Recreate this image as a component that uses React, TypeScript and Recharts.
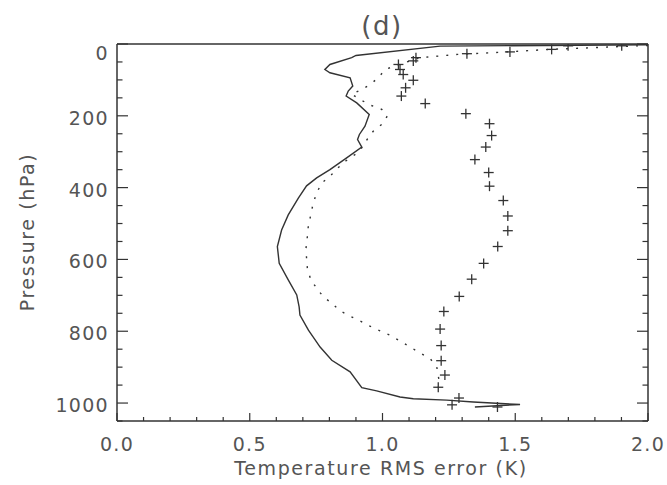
import { Scatter, ScatterChart, XAxis, YAxis } from "recharts";

// solid line: RMS error (K) vs pressure (hPa)
const SOLID_RMS = [2.0, 1.217, 0.9, 0.884, 0.802, 0.783, 0.802, 0.878, 0.888, 0.871, 0.863, 0.903, 0.95, 0.934, 0.913, 0.906, 0.922, 0.865, 0.802, 0.752, 0.714, 0.683, 0.645, 0.62, 0.604, 0.611, 0.645, 0.677, 0.686, 0.689, 0.721, 0.765, 0.809, 0.878, 0.922, 0.978, 1.066, 1.116, 1.242, 1.342, 1.518, 1.348];
const SOLID_P = [2, 6, 32, 38, 57, 71, 80, 94, 117, 131, 145, 164, 196, 229, 252, 266, 287, 317, 350, 373, 395, 429, 476, 518, 564, 611, 657, 699, 732, 755, 797, 844, 881, 913, 957, 966, 983, 988, 992, 997, 1004, 1011];

// dotted line
const DOTTED_RMS = [2.0, 1.631, 1.443, 1.284, 1.141, 1.047, 1.01, 0.984, 0.953, 0.921, 0.884, 0.915, 0.953, 0.997, 1.018, 0.997, 0.965, 0.942, 0.922, 0.896, 0.859, 0.825, 0.802, 0.771, 0.752, 0.739, 0.73, 0.721, 0.717, 0.712, 0.714, 0.717, 0.73, 0.752, 0.777, 0.809, 0.84, 0.878, 0.915, 0.953, 0.991, 1.028, 1.066, 1.104, 1.141, 1.179, 1.204, 1.213, 1.21];
const DOTTED_P = [4, 15, 23, 29, 38, 61, 71, 94, 113, 127, 140, 154, 170, 182, 201, 224, 243, 266, 289, 308, 327, 350, 369, 387, 415, 443, 476, 504, 536, 569, 597, 625, 657, 680, 704, 722, 743, 758, 771, 786, 799, 811, 827, 844, 860, 876, 898, 937, 957];

// plus markers
const PLUS_RMS = [1.901, 1.699, 1.637, 1.48, 1.318, 1.126, 1.116, 1.06, 1.066, 1.078, 1.116, 1.087, 1.071, 1.161, 1.314, 1.403, 1.411, 1.389, 1.348, 1.4, 1.403, 1.455, 1.472, 1.472, 1.434, 1.381, 1.336, 1.289, 1.231, 1.217, 1.221, 1.221, 1.235, 1.21, 1.288, 1.262, 1.433];
const PLUS_P = [5, 5, 15, 22, 27, 38, 47, 57, 71, 85, 101, 122, 145, 166, 194, 222, 255, 287, 322, 358, 396, 436, 479, 520, 564, 611, 655, 703, 745, 794, 840, 882, 922, 956, 986, 1005, 1011];

const X_TICKS = [0, 0.1, 0.2, 0.3, 0.4, 0.5, 0.6, 0.7, 0.8, 0.9, 1.0, 1.1, 1.2, 1.3, 1.4, 1.5, 1.6, 1.7, 1.8, 1.9, 2.0];
const Y_TICKS = [0, 50, 100, 150, 200, 250, 300, 350, 400, 450, 500, 550, 600, 650, 700, 750, 800, 850, 900, 950, 1000, 1050];

const zip = (xs: number[], ps: number[]) => xs.map((x, i) => ({ x, p: ps[i] }));
const solidData = zip(SOLID_RMS, SOLID_P);
const dottedData = zip(DOTTED_RMS, DOTTED_P);
const plusData = zip(PLUS_RMS, PLUS_P);

const LEFT = 117;
const RIGHT = 648;
const TOP = 44;
const BOTTOM = 421;
const INK = "#333";
const TEXT = "#555";
const FONT = "'DejaVu Sans', sans-serif";

const isMajorX = (v: number) => Math.abs(v * 2 - Math.round(v * 2)) < 1e-6;
const isMajorY = (v: number) => v % 200 === 0;

function BottomTick(props: any) {
  const { x, payload } = props;
  const major = isMajorX(payload.value);
  return (
    <g>
      <line x1={x} x2={x} y1={BOTTOM} y2={BOTTOM - (major ? 8 : 4)} stroke={INK} strokeWidth={1.2} />
      {major && (
        <text x={x} y={BOTTOM + 23} textAnchor="middle" dominantBaseline="central" fill={TEXT} fontSize={19} letterSpacing={1.3} fontFamily={FONT}>
          {payload.value.toFixed(1)}
        </text>
      )}
    </g>
  );
}

function TopTick(props: any) {
  const { x, payload } = props;
  const major = isMajorX(payload.value);
  return <line x1={x} x2={x} y1={TOP} y2={TOP + (major ? 8 : 4)} stroke={INK} strokeWidth={1.2} />;
}

function LeftTick(props: any) {
  const { y, payload } = props;
  const major = isMajorY(payload.value);
  return (
    <g>
      <line x1={LEFT} x2={LEFT + (major ? 11 : 5.5)} y1={y} y2={y} stroke={INK} strokeWidth={1.2} />
      {major && (
        <text x={109} y={y + (payload.value === 0 ? 9 : 2)} textAnchor="end" dominantBaseline="central" fill={TEXT} fontSize={19} letterSpacing={1.3} fontFamily={FONT}>
          {payload.value}
        </text>
      )}
    </g>
  );
}

function RightTick(props: any) {
  const { y, payload } = props;
  const major = isMajorY(payload.value);
  return <line x1={RIGHT} x2={RIGHT - (major ? 11 : 5.5)} y1={y} y2={y} stroke={INK} strokeWidth={1.2} />;
}

function Plus(props: any) {
  const { cx, cy } = props;
  return (
    <g stroke={INK} strokeWidth={1.3}>
      <line x1={cx - 5} x2={cx + 5} y1={cy} y2={cy} />
      <line x1={cx} x2={cx} y1={cy - 5} y2={cy + 5} />
    </g>
  );
}

const NoDot = () => <g />;

export default function App() {
  const axisLine = { stroke: INK, strokeWidth: 1.5 };
  return (
    <div style={{ position: "absolute", left: 0, top: 0, width: 667, height: 485, background: "#fff", fontFamily: FONT }}>
      <ScatterChart width={667} height={485} margin={{ top: TOP - 1, right: 667 - RIGHT - 1, bottom: 485 - BOTTOM - 30, left: LEFT - 60 }}>
        <XAxis xAxisId="b" dataKey="x" type="number" domain={[0, 2]} ticks={X_TICKS} interval={0} height={30} tick={<BottomTick />} tickLine={false} axisLine={axisLine} allowDataOverflow />
        <XAxis xAxisId="t" orientation="top" type="number" domain={[0, 2]} ticks={X_TICKS} interval={0} height={1} tick={<TopTick />} tickLine={false} axisLine={axisLine} allowDataOverflow />
        <YAxis yAxisId="l" dataKey="p" type="number" reversed domain={[0, 1050]} ticks={Y_TICKS} interval={0} width={60} tick={<LeftTick />} tickLine={false} axisLine={axisLine} allowDataOverflow />
        <YAxis yAxisId="r" orientation="right" type="number" reversed domain={[0, 1050]} ticks={Y_TICKS} interval={0} width={1} tick={<RightTick />} tickLine={false} axisLine={axisLine} allowDataOverflow />
        <Scatter xAxisId="b" yAxisId="l" data={solidData} line={{ stroke: INK, strokeWidth: 1.4 }} lineType="joint" shape={NoDot} isAnimationActive={false} />
        <Scatter xAxisId="b" yAxisId="l" data={dottedData} line={{ stroke: INK, strokeWidth: 1.4, strokeDasharray: "2 8" }} lineType="joint" shape={NoDot} isAnimationActive={false} />
        <Scatter xAxisId="b" yAxisId="l" data={plusData} shape={<Plus />} isAnimationActive={false} />
      </ScatterChart>
      <div style={{ position: "absolute", left: 382, top: 26, transform: "translate(-50%, -50%)", fontSize: 26, letterSpacing: 1.5, color: TEXT, whiteSpace: "nowrap", lineHeight: 1 }}>(d)</div>
      <div style={{ position: "absolute", left: 381, top: 468, transform: "translate(-50%, -50%)", fontSize: 19, letterSpacing: 1.6, color: TEXT, whiteSpace: "nowrap", lineHeight: 1 }}>Temperature RMS error (K)</div>
      <div style={{ position: "absolute", left: 27, top: 232, transform: "translate(-50%, -50%) rotate(-90deg)", fontSize: 19, letterSpacing: 1.6, color: TEXT, whiteSpace: "nowrap", lineHeight: 1 }}>Pressure (hPa)</div>
    </div>
  );
}
